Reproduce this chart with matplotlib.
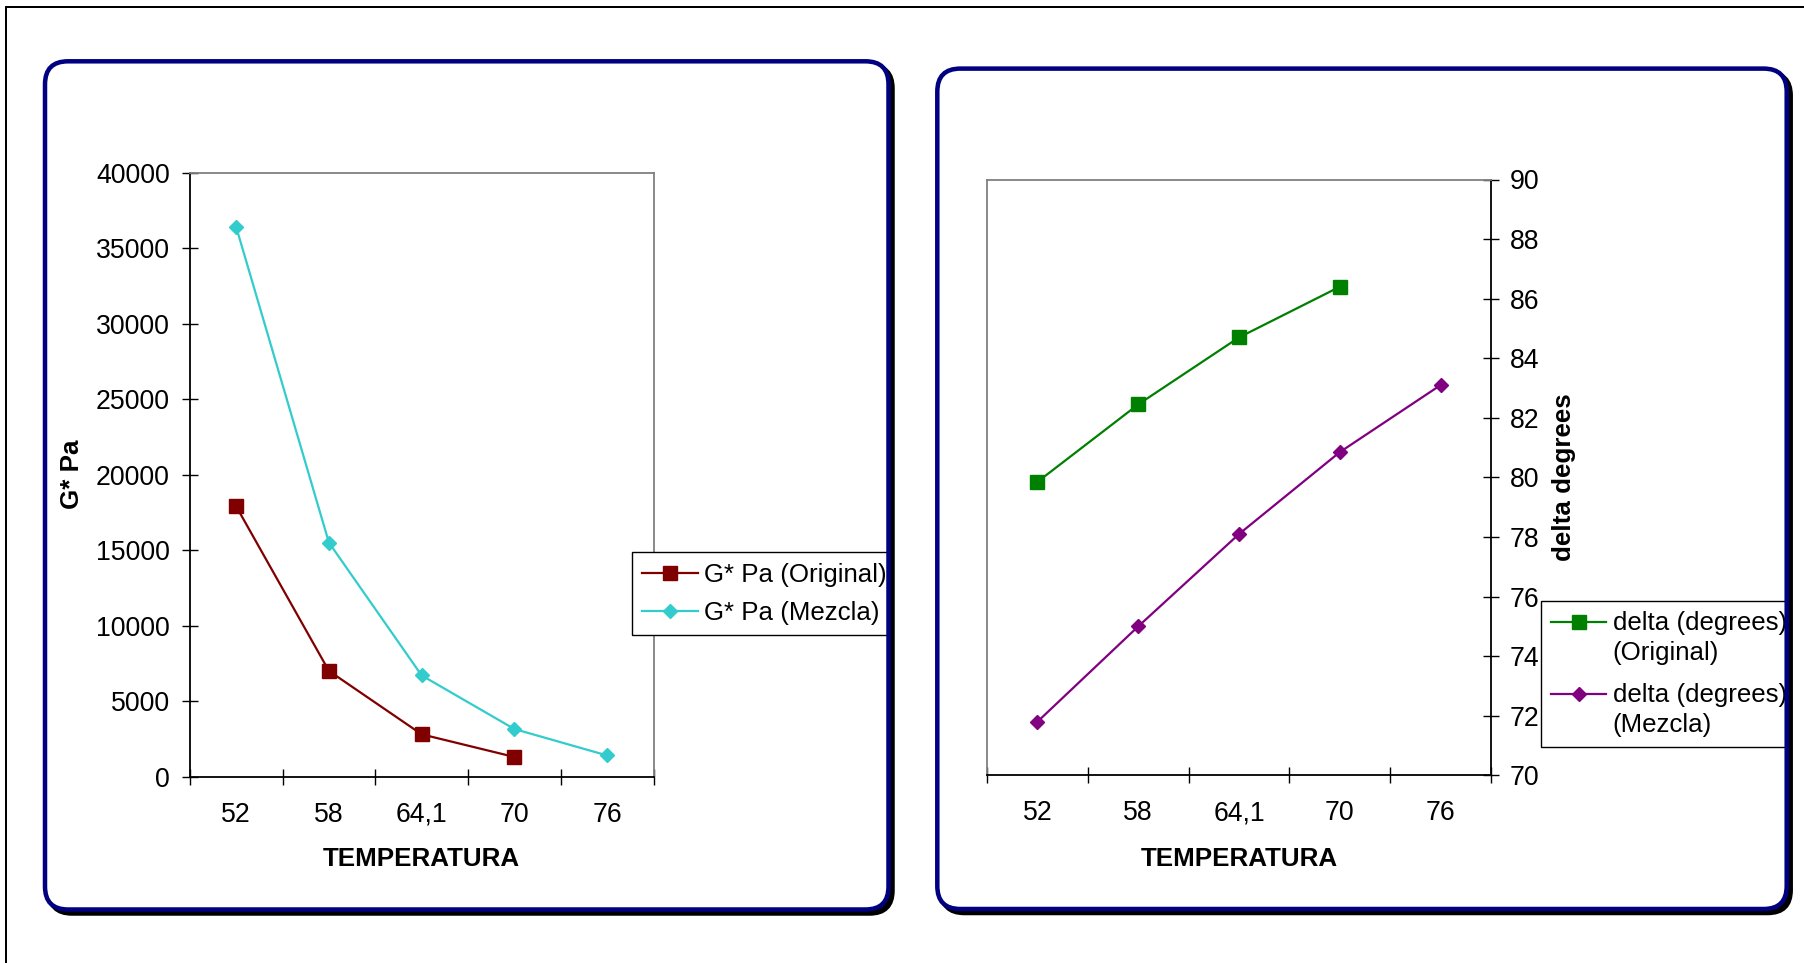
import numpy as np
import matplotlib
matplotlib.use("Agg")
import matplotlib.pyplot as plt
from matplotlib.patches import FancyBboxPatch
from matplotlib.lines import Line2D
from matplotlib.legend_handler import HandlerLine2D
from matplotlib.transforms import Bbox

plt.rcParams['font.family'] = ['Liberation Sans', 'DejaVu Sans']

# ---- data ----
categories = ['52', '58', '64,1', '70', '76']
g_original = [17900, 7000, 2800, 1300]
g_mezcla = [36400, 15500, 6700, 3150, 1400]
delta_original = [79.85, 82.45, 84.7, 86.4]
delta_mezcla = [71.8, 75.0, 78.1, 80.85, 83.1]

g_ticks = list(range(0, 40001, 5000))
delta_ticks = list(range(70, 91, 2))

# ---- styling ----
W, H, DPI = 1804, 963, 100
TICK_FS = 19.2
LABEL_FS = 18.7
LEG_FS = 18.6
NAVY = '#000080'
GRAY = '#808080'


class HandlerFirstLine(HandlerLine2D):
    """Legend handler that lifts the sample onto the first line of a two-line label."""
    def __init__(self, shift, **kw):
        super().__init__(**kw)
        self.shift = shift

    def create_artists(self, legend, orig_handle, xdescent, ydescent,
                       width, height, fontsize, trans):
        arts = super().create_artists(legend, orig_handle, xdescent, ydescent,
                                      width, height, fontsize, trans)
        for a in arts:
            a.set_ydata(np.asarray(a.get_ydata(), dtype=float) + self.shift)
        return arts


fig = plt.figure(figsize=(W / DPI, H / DPI), dpi=DPI)
fig.patch.set_facecolor('white')

# background layer: panel shadows and white panel fills
bg = fig.add_axes([0, 0, 1, 1], zorder=0)
bg.set_xlim(0, W)
bg.set_ylim(H, 0)
bg.axis('off')

# top layer: navy panel outlines and the outer frame
fg = fig.add_axes([0, 0, 1, 1], zorder=20)
fg.set_xlim(0, W)
fg.set_ylim(H, 0)
fg.axis('off')
fg.patch.set_alpha(0)

panels = [(45.0, 61.3, 888.5, 909.5), (937.3, 68.6, 1786.7, 909.0)]
px = 72 / DPI
for (x0, y0, x1, y1) in panels:
    shadow = FancyBboxPatch((x0 + 4, y0 + 4), x1 - x0, y1 - y0,
                            boxstyle="round,pad=0,rounding_size=23",
                            facecolor='black', edgecolor='black', lw=4.5 * px)
    bg.add_patch(shadow)
    fill = FancyBboxPatch((x0, y0), x1 - x0, y1 - y0,
                          boxstyle="round,pad=0,rounding_size=23",
                          facecolor='white', edgecolor='none')
    bg.add_patch(fill)
    outline = FancyBboxPatch((x0, y0), x1 - x0, y1 - y0,
                             boxstyle="round,pad=0,rounding_size=23",
                             facecolor='none', edgecolor=NAVY, lw=4.5 * px)
    fg.add_patch(outline)

# outer frame (top and left edges)
fg.add_line(Line2D([6, W], [7, 7], color='black', lw=2 * px))
fg.add_line(Line2D([6, 6], [7, H], color='black', lw=2 * px))


def style_axes(ax, yticks, right_axis):
    n = len(categories)
    x = np.arange(n)
    ax.set_xlim(-0.5, n - 0.5)
    ax.set_xticks(np.arange(-0.5, n, 1.0))
    ax.set_xticklabels([])
    ax.set_xticks(x, minor=True)
    ax.set_xticklabels(categories, minor=True, fontsize=TICK_FS)
    ax.tick_params(axis='x', which='major', direction='inout', length=11,
                   width=1.0, color='black')
    ax.tick_params(axis='x', which='minor', length=0, pad=18)
    ax.set_ylim(yticks[0], yticks[-1])
    ax.set_yticks(yticks)
    ax.set_yticklabels([str(t) for t in yticks], fontsize=TICK_FS)
    ax.tick_params(axis='y', direction='inout', length=11, width=1.0,
                   color='black', pad=9)
    for s in ax.spines.values():
        s.set_linewidth(1.3)
    ax.spines['bottom'].set_color('black')
    ax.spines['top'].set_color(GRAY)
    if right_axis:
        ax.yaxis.tick_right()
        ax.spines['right'].set_color('black')
        ax.spines['left'].set_color(GRAY)
    else:
        ax.spines['left'].set_color('black')
        ax.spines['right'].set_color(GRAY)
    ax.set_facecolor('white')


def clip_legend_frame(leg, x_right):
    leg.get_frame().set_clip_box(Bbox([[0, 0], [x_right, H]]))


# ---- left chart: G* Pa ----
ax1 = fig.add_axes([189.8 / W, 1 - 776.6 / H, 463.7 / W, 604.0 / H], zorder=5)
style_axes(ax1, g_ticks, right_axis=False)
ax1.plot(np.arange(len(g_original)), g_original, color='#800000', lw=1.6,
         marker='s', ms=9.5, mec='#800000', label='G* Pa (Original)', zorder=3)
ax1.plot(np.arange(len(g_mezcla)), g_mezcla, color='#33CCCC', lw=1.6,
         marker='D', ms=7, mec='#33CCCC', label='G* Pa (Mezcla)', zorder=3)
ax1.set_xlabel('TEMPERATURA', fontsize=LABEL_FS, fontweight='bold', va='center')
ax1.xaxis.set_label_coords(0.5, -0.136)
ax1.set_ylabel('G* Pa', fontsize=LABEL_FS, fontweight='bold', va='center')
ax1.yaxis.set_label_coords(-0.254, 0.5)

leg1 = ax1.legend(loc='upper left', bbox_to_anchor=(632.0 / W, 1 - 552.3 / H),
                  bbox_transform=fig.transFigure, borderaxespad=0,
                  fontsize=LEG_FS, handlelength=2.14, handletextpad=0.25,
                  borderpad=0.4, labelspacing=0.55, fancybox=False,
                  framealpha=1, edgecolor='black')
leg1.get_frame().set_linewidth(1.0)
leg1.set_zorder(10)
clip_legend_frame(leg1, 888)

# ---- right chart: delta degrees ----
ax2 = fig.add_axes([987.0 / W, 1 - 775.4 / H, 504.0 / W, 595.9 / H], zorder=5)
style_axes(ax2, delta_ticks, right_axis=True)
ax2.tick_params(axis='y', pad=8)
ax2.plot(np.arange(len(delta_original)), delta_original, color='#008000', lw=1.6,
         marker='s', ms=9.5, mec='#008000', label='delta (degrees)\n(Original)',
         zorder=3)
ax2.plot(np.arange(len(delta_mezcla)), delta_mezcla, color='#800080', lw=1.6,
         marker='D', ms=7, mec='#800080', label='delta (degrees)\n(Mezcla)',
         zorder=3)
ax2.set_xlabel('TEMPERATURA', fontsize=LABEL_FS, fontweight='bold', va='center')
ax2.xaxis.set_label_coords(0.5, -0.140)
ax2.set_ylabel('delta degrees', fontsize=LABEL_FS, fontweight='bold')
ax2.yaxis.set_label_position('right')
ax2.yaxis.label.set_rotation(90)
ax2.yaxis.label.set_va('center')
ax2.yaxis.set_label_coords(1.145, 0.5)

h2, l2 = ax2.get_legend_handles_labels()
shift = 16 * 72 / DPI
leg2 = ax2.legend(h2, l2, loc='upper left',
                  bbox_to_anchor=(1540.7 / W, 1 - 600.7 / H),
                  bbox_transform=fig.transFigure, borderaxespad=0,
                  fontsize=LEG_FS, handlelength=2.14, handletextpad=0.25,
                  borderpad=0.4, labelspacing=0.7, fancybox=False,
                  framealpha=1, edgecolor='black',
                  handler_map={h: HandlerFirstLine(shift) for h in h2})
leg2.get_frame().set_linewidth(1.0)
leg2.set_zorder(10)
for t in leg2.get_texts():
    t.set_linespacing(1.3)
clip_legend_frame(leg2, 1786)

fig.savefig('out.png', dpi=DPI, facecolor='white')
